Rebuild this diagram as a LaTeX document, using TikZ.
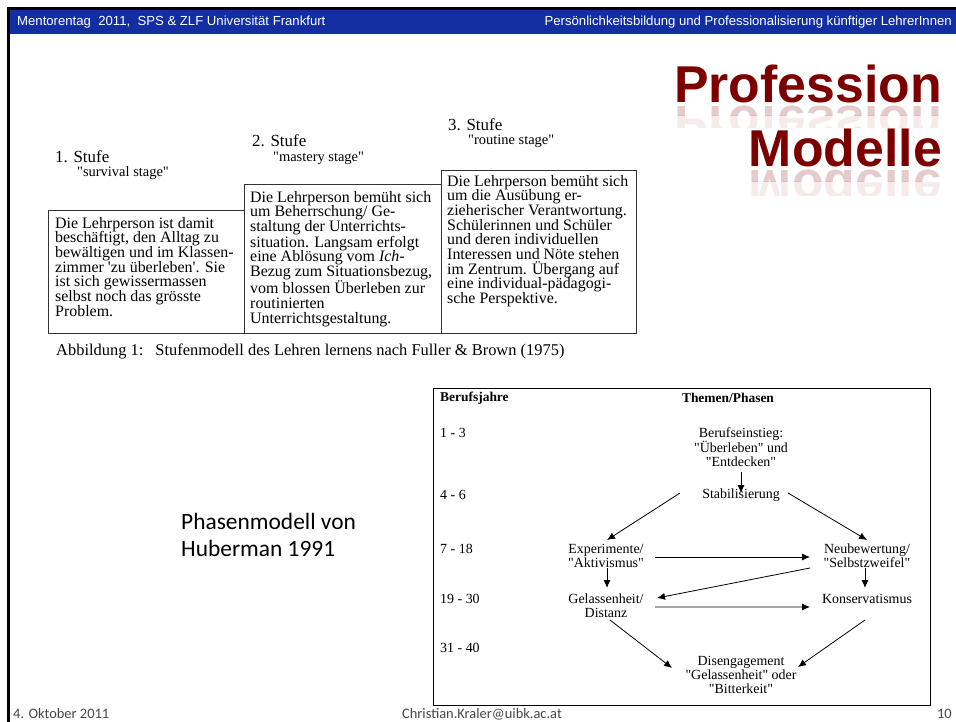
\documentclass[tikz,border=0pt]{standalone}
\usepackage{fontspec}
\setmainfont{Liberation Serif}
\newfontfamily\arialfont{Liberation Sans}
\newfontfamily\calibrifont{Carlito}
\usetikzlibrary{arrows.meta,calc}

\definecolor{barblue}{RGB}{18,46,160}
\definecolor{titlered}{RGB}{125,0,0}
\definecolor{footgray}{RGB}{70,70,70}
\newcommand{\hq}{\textquotedbl}
\newcommand{\sq}{\textquotesingle}

\tikzset{
  stage/.style={anchor=base west,inner sep=0pt,font=\fontsize{17}{17}\selectfont},
  stagesub/.style={anchor=base west,inner sep=0pt,font=\fontsize{14.5}{14.5}\selectfont},
  stagebox/.style={draw=black!80,line width=1.1bp,anchor=south west,inner sep=0pt},
  stagetext/.style={anchor=north west,align=left,inner sep=0pt,font=\fontsize{16}{14.7}\selectfont},
  phase/.style={align=center,inner sep=0pt,font=\fontsize{14}{14}\selectfont},
  years/.style={anchor=west,inner sep=0pt,font=\fontsize{14}{14}\selectfont},
  titleword/.style={anchor=base east,inner sep=0pt,text=titlered,font=\arialfont\bfseries\fontsize{52}{52}\selectfont},
}

\begin{document}
\begin{tikzpicture}[x=1bp,y=-1bp]
  \useasboundingbox (0,0) rectangle (956,722);

  % header bar
  \fill[black] (7,7) rectangle (956,10);
  \fill[black] (7,7) rectangle (10,722);
  \fill[barblue] (10,10) rectangle (956,34);
  \begin{scope}[every node/.style={text=white,inner sep=0pt,font=\arialfont\fontsize{13.2}{14}\selectfont}]
    \node[anchor=west] (hleft)  at (17,22)  {Mentorentag\ \ 2011,\ \ SPS \& ZLF Universität Frankfurt};
    \node[anchor=east] (hright) at (952,22) {Persönlichkeitsbildung und Professionalisierung künftiger LehrerInnen};
  \end{scope}

  % title with reflection
  \node[titleword] (title1) at (942,103) {Profession};
  \node[titleword] (title2) at (942,167) {Modelle};
  \begin{scope}
    \clip (650,106) rectangle (956,116);
    \node[titleword,yscale=-1,opacity=0.2] (refl1) at (942,107) {Profession};
  \end{scope}
  \begin{scope}
    \clip (650,116) rectangle (956,128);
    \node[titleword,yscale=-1,opacity=0.08] (refl1b) at (942,107) {Profession};
  \end{scope}
  \begin{scope}
    \clip (650,170) rectangle (956,181);
    \node[titleword,yscale=-1,opacity=0.2] (refl2) at (942,171) {Modelle};
  \end{scope}
  \begin{scope}
    \clip (650,181) rectangle (956,195);
    \node[titleword,yscale=-1,opacity=0.08] (refl2b) at (942,171) {Modelle};
  \end{scope}

  % Fuller & Brown stages
  \node[stage]    (st1)  at (55,163)  {1. Stufe};
  \node[stagesub] (sub1) at (77,177)  {\hq survival stage\hq};
  \node[stage]    (st2)  at (252,147) {2. Stufe};
  \node[stagesub] (sub2) at (273,162) {\hq mastery stage\hq};
  \node[stage]    (st3)  at (448,131) {3. Stufe};
  \node[stagesub] (sub3) at (468,145) {\hq routine stage\hq};

  \node[stagebox,minimum width=196bp,minimum height=123bp] (box1) at (48,334)  {};
  \node[stagebox,minimum width=197bp,minimum height=149bp] (box2) at (244,334) {};
  \node[stagebox,minimum width=195bp,minimum height=163bp] (box3) at (441,334) {};

  \node[stagetext] (text1) at ($(box1.north west)+(7,7)$) {Die Lehrperson ist damit\\beschäftigt, den Alltag zu\\bewältigen und im Klassen-\\zimmer \sq zu überleben\sq . Sie\\ist sich gewissermassen\\selbst noch das grösste\\Problem.};
  \node[stagetext] (text2) at ($(box2.north west)+(6,7)$) {Die Lehrperson bemüht sich\\um Beherrschung/ Ge-\\staltung der Unterrichts-\\situation. Langsam erfolgt\\eine Ablösung vom \textit{Ich}-\\Bezug zum Situationsbezug,\\vom blossen Überleben zur\\routinierten\\Unterrichtsgestaltung.};
  \node[stagetext] (text3) at ($(box3.north west)+(6,5)$) {Die Lehrperson bemüht sich\\um die Ausübung er-\\zieherischer Verantwortung.\\Schülerinnen und Schüler\\und deren individuellen\\Interessen und Nöte stehen\\im Zentrum. Übergang auf\\eine individual-pädagogi-\\sche Perspektive.};

  \node[anchor=base west,inner sep=0pt,font=\fontsize{16.5}{16.5}\selectfont] (caption) at (56,355) {Abbildung 1:\hspace{12bp}Stufenmodell des Lehren lernens nach Fuller \& Brown (1975)};

  % Huberman phases
  \node[anchor=west,align=left,inner sep=0pt,font=\calibrifont\fontsize{23.5}{26.5}\selectfont] (huber) at (181,535) {Phasenmodell von\\Huberman 1991};

  \node[draw,line width=1.3bp,minimum width=497bp,minimum height=317bp,anchor=north west,inner sep=0pt] (chart) at (433,388) {};
  \node[years,font=\bfseries\fontsize{13.5}{14}\selectfont] (yhead) at (440,398) {Berufsjahre};
  \node[phase,font=\bfseries\fontsize{13.5}{14}\selectfont]  (phead) at (728,398) {Themen/Phasen};

  \node[years] (y1) at (440,433) {1 - 3};
  \node[years] (y2) at (440,495) {4 - 6};
  \node[years] (y3) at (440,549) {7 - 18};
  \node[years] (y4) at (440,599) {19 - 30};
  \node[years] (y5) at (440,648) {31 - 40};

  \node[phase] (ein)  at (741,447)   {Berufseinstieg:\\\hq Überleben\hq\ und\\\hq Entdecken\hq};
  \node[phase] (stab) at (741,495)   {Stabilisierung};
  \node[phase] (exp)  at (606,555.5) {Experimente/\\\hq Aktivismus\hq};
  \node[phase] (neu)  at (867,555.5) {Neubewertung/\\\hq Selbstzweifel\hq};
  \node[phase] (gel)  at (606,605.5) {Gelassenheit/\\Distanz};
  \node[phase] (kon)  at (867,599)   {Konservatismus};
  \node[phase] (dis)  at (741,674.5) {Disengagement\\\hq Gelassenheit\hq\ oder\\\hq Bitterkeit\hq};

  \begin{scope}[every edge/.style={draw,line width=0.8bp,-{Latex[length=8bp,width=7bp]}}]
    \path ($(ein)+(0,25)$)      edge ($(stab)+(0,-2)$);
    \path ($(stab)+(-61,-2)$)   edge ($(exp)+(1,-15.5)$);
    \path ($(stab)+(47,-2)$)    edge ($(neu)+(0,-15.5)$);
    \path ($(exp)+(49,1.5)$)    edge ($(neu)+(-57,1.5)$);
    \path ($(exp)+(1,12.5)$)    edge ($(gel)+(1,-17.5)$);
    \path ($(neu)+(-57,12.5)$)  edge ($(gel)+(51,-7.5)$);
    \path ($(neu)+(-2,12.5)$)   edge ($(kon)+(-2,-11)$);
    \path ($(gel)+(49,1.5)$)    edge ($(kon)+(-57,8)$);
    \path ($(gel)+(4,14.5)$)    edge ($(dis)+(-69,-6.5)$);
    \path ($(kon)+(-2,21)$)     edge ($(dis)+(57,-7.5)$);
  \end{scope}

  % footer
  \begin{scope}[every node/.style={inner sep=0pt,text=footgray,font=\calibrifont\fontsize{14.5}{15}\selectfont}]
    \node[anchor=west] (fdate) at (13,714)  {4. Oktober 2011};
    \node              (fmail) at (482,714) {Christian.Kraler@uibk.ac.at};
    \node[anchor=east] (fpage) at (952,714) {10};
  \end{scope}

\end{tikzpicture}
\end{document}
